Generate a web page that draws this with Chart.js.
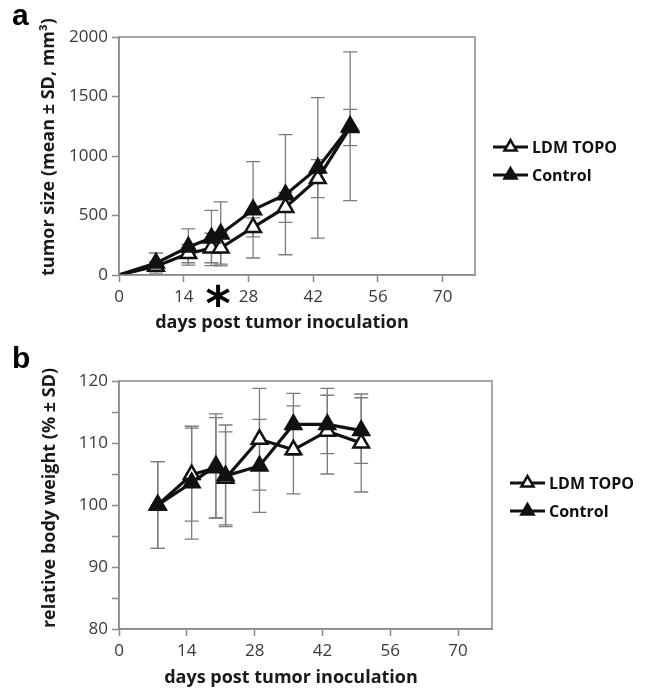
<!DOCTYPE html>
<html>
<head>
<meta charset="utf-8">
<script src="https://cdn.jsdelivr.net/npm/chart.js@4.4.0/dist/chart.umd.min.js"></script>
<style>
  body { margin: 0; background: #fff; width: 657px; height: 690px; position: relative; overflow: hidden; }
  .panel { position: absolute; left: 0; }
  .tag { position: absolute; font: bold 30px 'Liberation Sans', Arial, sans-serif; color: #000; }
</style>
</head>
<body>
<canvas id="tumor" class="panel" style="top:0" width="657" height="340"></canvas>
<canvas id="weight" class="panel" style="top:340px" width="657" height="350"></canvas>
<div class="tag" style="left:12px;top:-2px">a</div>
<div class="tag" style="left:12px;top:341px">b</div>
<script>
// days and tick labels
const tumorDays = [0, 8, 15, 20, 22, 29, 36, 43, 50];
const weightDays = [8, 15, 20, 22, 29, 36, 43, 50];
const xTicks = [0, 14, 28, 42, 56, 70];
const tumorTicks = [0, 500, 1000, 1500, 2000];
const weightTicks = [80, 85, 90, 95, 100, 105, 110, 115, 120];

// panel a: tumour size, mm3 (mean and SD)
const tumorTopo = [0, 73, 180, 227, 227, 400, 568, 810, 1240];
const tumorTopoSd = [0, 40, 77, 124, 135, 80, 126, 160, 152];
const tumorCtrl = [0, 100, 235, 311, 345, 548, 675, 900, 1250];
const tumorCtrlSd = [0, 85, 152, 232, 269, 405, 505, 590, 625];

// panel b: relative body weight, %
const weightTopo = [100, 104.9, 106, 104.3, 110.6, 108.9, 111.9, 110];
const weightTopoSd = [7, 7.5, 8.1, 7.5, 8.2, 7.1, 6.9, 7.9];
const weightCtrl = [100, 103.6, 106.3, 104.7, 106.3, 113, 113, 112];
const weightCtrlSd = [7, 9.1, 8.4, 8.2, 7.5, 5, 4.7, 5.3];

const seriesNames = ['LDM TOPO', 'Control'];
const GRAY = '#8a8a8a';

// error bars under the lines
const errorBars = {
  id: 'errorBars',
  beforeDatasetsDraw(chart) {
    const { ctx, chartArea: a, scales: { x, y } } = chart;
    ctx.save();
    ctx.beginPath();
    ctx.rect(a.left, a.top, a.right - a.left, a.bottom - a.top);
    ctx.clip();
    ctx.strokeStyle = '#7c7c7c';
    ctx.lineWidth = 1.3;
    chart.data.datasets.forEach(ds => {
      ds.data.forEach((p, i) => {
        const sd = ds.sd[i];
        if (!sd) return;
        const px = x.getPixelForValue(p.x);
        const top = y.getPixelForValue(p.y + sd);
        const bot = y.getPixelForValue(p.y - sd);
        ctx.beginPath();
        ctx.moveTo(px, top); ctx.lineTo(px, bot);
        ctx.moveTo(px - 7, top); ctx.lineTo(px + 7, top);
        ctx.moveTo(px - 7, bot); ctx.lineTo(px + 7, bot);
        ctx.stroke();
      });
    });
    ctx.restore();
  }
};

// frame, axis titles, legend, extra marks
const decor = {
  id: 'decor',
  afterDraw(chart, args, opts) {
    const { ctx, chartArea: a } = chart;
    ctx.save();
    ctx.strokeStyle = GRAY;
    ctx.lineWidth = 1.5;
    ctx.strokeRect(a.left, a.top, a.right - a.left, a.bottom - a.top);

    ctx.fillStyle = '#1a1a1a';
    ctx.font = 'bold 18px "Open Sans"';
    ctx.textAlign = 'center';
    ctx.textBaseline = 'middle';
    ctx.fillText(opts.xTitle, opts.xTitlePos[0], opts.xTitlePos[1]);
    ctx.save();
    ctx.translate(opts.yTitlePos[0], opts.yTitlePos[1]);
    ctx.rotate(-Math.PI / 2);
    ctx.fillText(opts.yTitle, 0, 0);
    ctx.restore();

    // legend
    chart.data.datasets.forEach((ds, i) => {
      const ly = opts.legend[1] + i * 28;
      const lx = opts.legend[0];
      ctx.strokeStyle = '#111';
      ctx.lineWidth = 3;
      ctx.beginPath();
      ctx.moveTo(lx, ly); ctx.lineTo(lx + 35, ly);
      ctx.stroke();
      ctx.fillStyle = ds.pointBackgroundColor;
      ctx.lineWidth = 2.5;
      Chart.helpers.drawPoint(ctx, { pointStyle: 'triangle', radius: 7, rotation: 0, borderWidth: 2.5 }, lx + 17.5, ly);
      ctx.fillStyle = '#111';
      ctx.font = 'bold 16px "Open Sans"';
      ctx.textAlign = 'left';
      ctx.fillText(ds.label, lx + 39, ly + 1);
    });

    if (opts.star) {
      ctx.font = 'bold 48px "DejaVu Sans"';
      ctx.textAlign = 'center';
      ctx.textBaseline = 'alphabetic';
      const m = ctx.measureText('*');
      const sx = chart.scales.x.getPixelForValue(opts.star[0]);
      const sy = opts.star[1] + (m.actualBoundingBoxAscent - m.actualBoundingBoxDescent) / 2;
      ctx.fillStyle = '#000';
      ctx.fillText('*', sx, sy);
    }
    ctx.restore();
  }
};

function lineSet(label, days, values, sd, filled, order) {
  return {
    label: label,
    data: days.map((d, i) => ({ x: d, y: values[i] })),
    sd: sd,
    order: order,
    borderColor: '#111',
    borderWidth: 3.2,
    tension: 0,
    pointStyle: 'triangle',
    pointRadius: days.map(d => d === 0 ? 0 : 9),
    pointBorderWidth: 2.5,
    pointBorderColor: '#111',
    pointBackgroundColor: filled ? '#111' : '#fff'
  };
}

function axes(yTicks, yMin, yMax, xHeight, label) {
  const common = {
    type: 'linear',
    grid: { display: true, drawOnChartArea: false, drawTicks: true, tickLength: 7, color: GRAY, tickWidth: 1.5 },
    border: { display: true, color: GRAY, width: 1.5 },
    ticks: { color: '#3a3a3a', font: { family: 'Open Sans', size: 17 }, padding: 4 }
  };
  return {
    x: Object.assign({}, common, {
      min: 0, max: 77,
      afterBuildTicks: s => { s.ticks = xTicks.map(v => ({ value: v })); },
      afterFit: s => { s.height = xHeight; },
      ticks: Object.assign({}, common.ticks, { maxRotation: 0, padding: 5 })
    }),
    y: Object.assign({}, common, {
      min: yMin, max: yMax,
      afterBuildTicks: s => { s.ticks = yTicks.map(v => ({ value: v })); },
      afterFit: s => { s.width = 119; },
      ticks: Object.assign({}, common.ticks, { callback: label })
    })
  };
}

new Chart(document.getElementById('tumor'), {
  type: 'line',
  data: {
    datasets: [
      lineSet(seriesNames[0], tumorDays, tumorTopo, tumorTopoSd, false, 1),
      lineSet(seriesNames[1], tumorDays, tumorCtrl, tumorCtrlSd, true, 0)
    ]
  },
  options: {
    responsive: false,
    animation: false,
    events: [],
    layout: { padding: { left: 0, top: 37, right: 182, bottom: 0 } },
    scales: axes(tumorTicks, 0, 2000, 65, v => String(v)),
    plugins: {
      legend: { display: false },
      tooltip: { enabled: false },
      decor: {
        xTitle: 'days post tumor inoculation', xTitlePos: [282, 323],
        yTitle: 'tumor size (mean \u00b1 SD, mm\u00b3)', yTitlePos: [49, 147],
        legend: [493, 147],
        star: [21.4, 295]
      }
    }
  },
  plugins: [errorBars, decor]
});

new Chart(document.getElementById('weight'), {
  type: 'line',
  data: {
    datasets: [
      lineSet(seriesNames[0], weightDays, weightTopo, weightTopoSd, false, 1),
      lineSet(seriesNames[1], weightDays, weightCtrl, weightCtrlSd, true, 0)
    ]
  },
  options: {
    responsive: false,
    animation: false,
    events: [],
    layout: { padding: { left: 0, top: 41, right: 165, bottom: 0 } },
    scales: axes(weightTicks, 80, 120, 61, v => (v % 10 === 0 ? String(v) : '')),
    plugins: {
      legend: { display: false },
      tooltip: { enabled: false },
      decor: {
        xTitle: 'days post tumor inoculation', xTitlePos: [291, 338],
        yTitle: 'relative body weight (% \u00b1 SD)', yTitlePos: [50, 158],
        legend: [510, 143]
      }
    }
  },
  plugins: [errorBars, decor]
});
</script>
</body>
</html>
